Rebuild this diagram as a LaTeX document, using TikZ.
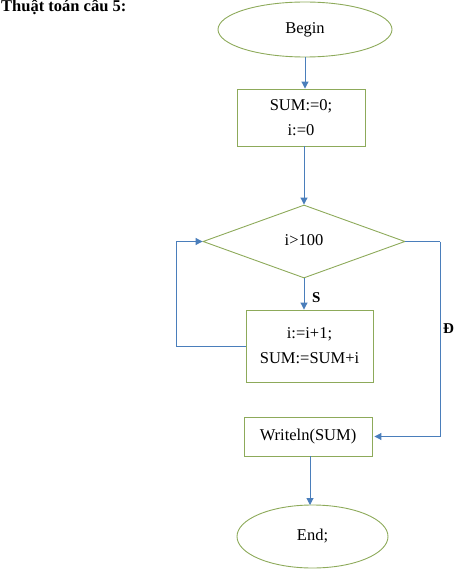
\documentclass[tikz,border=0pt]{standalone}
\usepackage{fontspec}
\setmainfont{Liberation Serif}
\usetikzlibrary{shapes.geometric,arrows.meta}
\definecolor{shapegreen}{HTML}{8DAA5A}
\definecolor{arrowblue}{HTML}{4A7EBB}
\tikzset{
  shapeline/.style={draw=shapegreen, line width=0.9pt, inner sep=0pt, font=\fontsize{16.5}{25}\selectfont, align=center},
  terminal/.style={shapeline, ellipse},
  procbox/.style={shapeline, rectangle},
  decision/.style={shapeline, diamond},
  flow/.style={draw=arrowblue, line width=1pt, -{Triangle[length=7pt,width=7pt]}},
  flowplain/.style={draw=arrowblue, line width=1pt},
  lbl/.style={font=\fontsize{15}{15}\selectfont\bfseries, inner sep=0pt}
}
\begin{document}
\begin{tikzpicture}[x=1pt,y=-1pt]
\useasboundingbox (0,0) rectangle (455,569);
\node[anchor=base west, font=\fontsize{16.5}{16.5}\selectfont\bfseries, inner sep=0pt] (title) at (1,12) {Thuật toán câu 5:};
\node[terminal, minimum width=174pt, minimum height=55pt] (begin) at (305,29.5) {Begin};
\node[procbox, minimum width=128pt, minimum height=57pt] (init) at (301,117.5) {SUM:=0;\\i:=0};
\node[decision, minimum width=202pt, minimum height=73pt] (cond) at (304,241.5) {\raisebox{3pt}{i>100}};
\node[procbox, minimum width=127pt, minimum height=72pt] (body) at (309.5,346) {i:=i+1;\\SUM:=SUM+i};
\node[procbox, minimum width=128pt, minimum height=39pt] (out) at (308,436.5) {Writeln(SUM)};
\node[terminal, minimum width=151pt, minimum height=63pt] (stop) at (312.5,536.5) {End;};
\coordinate (loopleft) at (176,346);
\coordinate (rightcorner) at (440,241.5);
\draw[flow] (begin.south) -- (begin.south |- init.north);
\draw[flow] (init.south -| cond.north) -- (cond.north);
\draw[flow] (cond.south) -- (cond.south |- body.north);
\node[lbl, anchor=west] (slabel) at (312,298) {S};
\draw[flowplain] (body.west) -- (loopleft);
\draw[flow] (loopleft) |- (cond.west);
\draw[flowplain] (cond.east) -- (rightcorner);
\draw[flow] (rightcorner) |- ([xshift=2pt]out.east);
\node[lbl, anchor=west] (dlabel) at (443,329) {Đ};
\draw[flow] (out.south -| 310,0) -- (310,505);
\end{tikzpicture}
\end{document}
